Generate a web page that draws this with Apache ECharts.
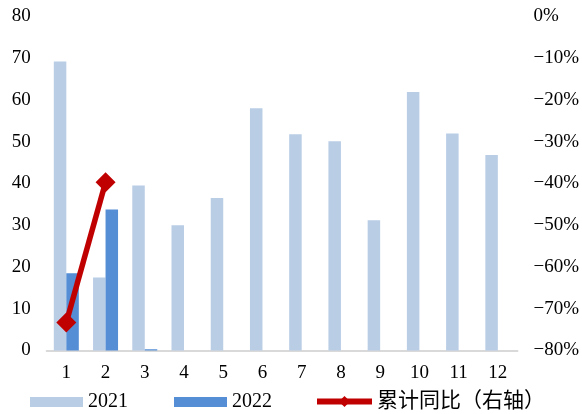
<!DOCTYPE html>
<html>
<head>
<meta charset="utf-8">
<script src="https://cdn.jsdelivr.net/npm/echarts@6/dist/echarts.min.js"></script>
<style>
  html, body { margin: 0; padding: 0; background: #fff; }
  #chart { width: 582px; height: 414px; }
</style>
</head>
<body>
<div id="chart"></div>
<script>
// Months on the category axis
const months = ['1', '2', '3', '4', '5', '6', '7', '8', '9', '10', '11', '12'];
// Monthly values, 2021 and 2022 (left axis)
const values2021 = [69.2, 17.5, 39.5, 30.0, 36.5, 58.0, 51.8, 50.1, 31.2, 61.9, 52.0, 46.8];
const values2022 = [18.5, 33.8, 0.3, null, null, null, null, null, null, null, null, null];
// Cumulative year-on-year change, % (right axis)
const cumulativeYoY = [-73.3, -39.7, null, null, null, null, null, null, null, null, null, null];

const serif = '"Liberation Serif", "Times New Roman", "Noto Sans CJK SC", serif';
const lineName = '累计同比（右轴）';

const chart = echarts.init(document.getElementById('chart'), null, { renderer: 'canvas' });
chart.setOption({
  animation: false,
  textStyle: { fontFamily: serif },
  grid: { left: 46.7, right: 61, top: 16.5, bottom: 63.5 },
  legend: [
    {
      top: 392,
      left: 30,
      padding: 0,
      itemGap: 46,
      itemWidth: 53,
      itemHeight: 10,
      textStyle: { fontFamily: serif, fontSize: 20, color: '#000' },
      data: [
        { name: '2021', icon: 'rect' },
        { name: '2022', icon: 'rect' }
      ]
    },
    {
      top: 391,
      left: 314,
      padding: 0,
      itemWidth: 55,
      itemHeight: 14,
      textStyle: { fontFamily: serif, fontSize: 21, color: '#000' },
      data: [
        { name: lineName, lineStyle: { width: 6, color: '#c00000' } }
      ]
    }
  ],
  xAxis: {
    type: 'category',
    data: months,
    axisLine: { lineStyle: { color: '#d9d9d9', width: 2 } },
    axisTick: { show: false },
    axisLabel: { color: '#000', fontSize: 19, margin: 13, fontFamily: serif }
  },
  yAxis: [
    {
      type: 'value',
      min: 0, max: 80, interval: 10,
      splitLine: { show: false },
      axisLine: { show: false },
      axisTick: { show: false },
      axisLabel: { color: '#000', fontSize: 19, margin: 16, fontFamily: serif }
    },
    {
      type: 'value',
      min: -80, max: 0, interval: 10,
      splitLine: { show: false },
      axisLine: { show: false },
      axisTick: { show: false },
      axisLabel: {
        color: '#000', fontSize: 19, margin: 16, fontFamily: serif,
        formatter: v => v === 0 ? '0%' : '−' + Math.abs(v) + '%'
      }
    }
  ],
  series: [
    {
      name: '2021',
      type: 'bar',
      data: values2021,
      barWidth: 12.5,
      barGap: '0%',
      itemStyle: { color: '#b9cde5' }
    },
    {
      name: '2022',
      type: 'bar',
      data: values2022,
      barWidth: 12.5,
      itemStyle: { color: '#558ed5' }
    },
    {
      name: lineName,
      type: 'line',
      yAxisIndex: 1,
      data: cumulativeYoY,
      symbol: 'diamond',
      symbolSize: 20,
      lineStyle: { color: '#c00000', width: 5.5 },
      itemStyle: { color: '#c00000' }
    }
  ]
});
</script>
</body>
</html>
